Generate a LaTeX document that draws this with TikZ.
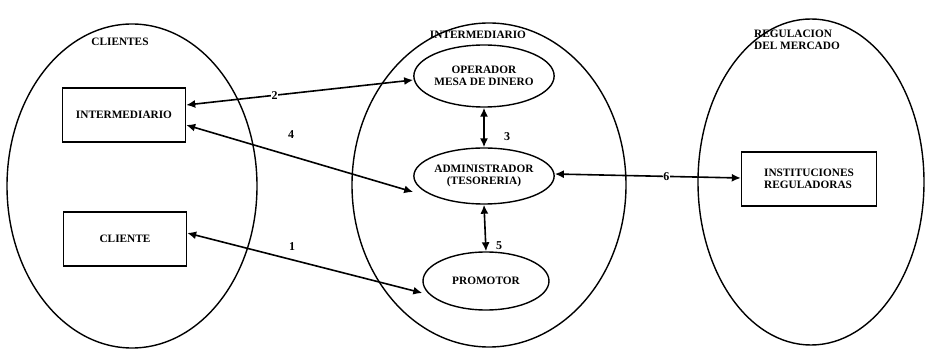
\documentclass[tikz,border=0pt]{standalone}
\usepackage{fontspec}
\setmainfont{Liberation Serif}
\usetikzlibrary{arrows.meta,shapes.geometric}
\begin{document}
\begin{tikzpicture}[x=1pt,y=-1pt,
  txt/.style={font=\fontsize{11.3}{12.5}\selectfont\bfseries, inner sep=0pt, align=center},
  group/.style={draw, line width=1.4pt},
  entbox/.style={draw, line width=1.4pt, minimum width=#1, minimum height=54pt, txt},
  entbox/.default=123pt,
  role/.style={draw, ellipse, line width=1.4pt, txt},
  flow/.style={line width=1.6pt, {Latex[length=9pt,width=8pt]}-{Latex[length=9pt,width=8pt]}},
  num/.style={font=\fontsize{12}{12}\selectfont\bfseries, inner sep=1pt}]
\useasboundingbox (0,0) rectangle (926,352);

% three domains
\draw[group] (132,186) ellipse [x radius=125, y radius=162];
\draw[group] (489,185) ellipse [x radius=137, y radius=162];
\draw[group] (811,182) ellipse [x radius=113, y radius=163];

\node[txt] (tcli) at (120,42) {CLIENTES};
\node[txt] (tint) at (478,35) {INTERMEDIARIO};
\node[txt, align=left] (treg) at (797,40) {REGULACION\\DEL MERCADO};

% entities
\node[entbox] (inter) at (124,115) {INTERMEDIARIO};
\node[entbox] (cli) at (125,239) {CLIENTE};
\node[entbox=135pt, align=left] (inst) at (809,179) {INSTITUCIONES\\REGULADORAS};

\node[role, minimum width=128pt, minimum height=62pt] (oper) at (484,76) {OPERADOR\\MESA DE DINERO};
\node[role, minimum width=128pt, minimum height=56pt] (adm) at (484,176) {ADMINISTRADOR\\(TESORERIA)};
\node[role, minimum width=126pt, minimum height=58pt] (prom) at (486,281) {PROMOTOR};

% flows
\draw[flow] ([yshift=10pt]inter.east) -- ([yshift=-4pt]oper.west) node[num, pos=0.39, fill=white, inner sep=0.5pt] {2};
\draw[flow] ([yshift=-10pt]inter.east) -- ([yshift=-16pt]adm.west);
\node[num] (n4) at (291,135) {4};
\draw[flow] ([yshift=6pt]cli.east) -- ([yshift=-12pt]prom.west);
\node[num] (n1) at (292,247) {1};
\draw[flow] (oper.south) -- (adm.north);
\node[num] (n3) at (507,137) {3};
\draw[flow] (adm.south) -- (prom.north);
\node[num] (n5) at (499,246) {5};
\draw[flow] ([yshift=2pt]adm.east) -- ([yshift=1pt]inst.west) node[num, pos=0.6, fill=white, inner sep=0.5pt] {6};
\end{tikzpicture}
\end{document}
